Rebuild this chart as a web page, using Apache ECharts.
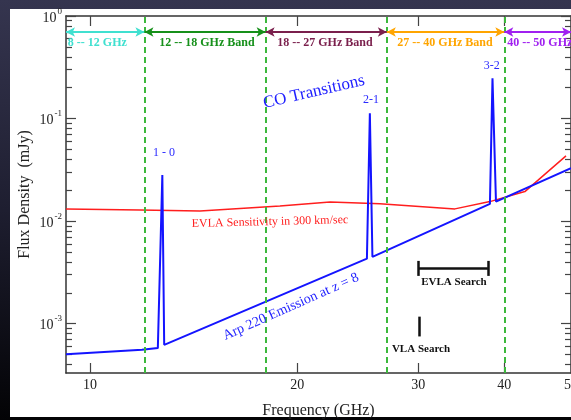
<!DOCTYPE html>
<html><head><meta charset="utf-8">
<script src="https://cdn.jsdelivr.net/npm/echarts@6/dist/echarts.min.js"></script>
<style>html,body{margin:0;padding:0;background:#000}#c{width:571px;height:420px}</style>
</head><body><div id="c"></div>
<script>
// ---------- data ----------
const freqRange = [9.23, 50];
const fluxRange = [3.3e-4, 1];
const xTicks = [10, 20, 30, 40, 50];
const yMajorTicks = [1e-3, 1e-2, 1e-1, 1];
const yMinorTicks = [4e-4, 5e-4, 6e-4, 7e-4, 8e-4, 9e-4,
  2e-3, 3e-3, 4e-3, 5e-3, 6e-3, 7e-3, 8e-3, 9e-3,
  2e-2, 3e-2, 4e-2, 5e-2, 6e-2, 7e-2, 8e-2, 9e-2,
  0.2, 0.3, 0.4, 0.5, 0.6, 0.7, 0.8, 0.9];

const bandEdges = [12, 18, 27, 40];
const bandNames = ['8 -- 12 GHz', '12 -- 18 GHz Band', '18 -- 27 GHz Band', '27 -- 40 GHz Band', '40 -- 50 GHz Band'];
const bandStart = [9.23, 12, 18, 27, 40];
const bandEnd = [12, 18, 27, 40, 50];
const bandColors = ['#40e0d0', '#16901a', '#7a1f4c', '#ffa500', '#a020f0'];
const bandLabelFreq = [10.25, 14.79, 21.95, 32.8, 47.4];
const bandArrowFlux = 0.698;
const bandLabelFlux = 0.546;

const arpFreq = [9.23, 11.90, 12.55, 12.74, 12.82, 25.26, 25.51, 25.73, 38.12, 38.45, 38.90, 50];
const arpFlux = [5.04e-4, 5.55e-4, 5.77e-4, 0.0282, 6.21e-4, 4.3e-3, 0.1127, 4.48e-3, 0.0147, 0.247, 0.0155, 0.0328];

const evlaFreq = [9.23, 11.82, 14.45, 18.88, 22.33, 26.38, 33.91, 38.12, 42.85, 49.17];
const evlaFlux = [0.01315, 0.01285, 0.01257, 0.01407, 0.01539, 0.01472, 0.01315, 0.01549, 0.0194, 0.0432];

const coNames = ['1 - 0', '2-1', '3-2'];
const coLabelFreq = [12.81, 25.60, 38.37];
const coLabelFlux = [0.0462, 0.1518, 0.326];

const evlaSearchFreq = [29.97, 37.86];
const evlaSearchFlux = 3.47e-3;
const evlaSearchCap = [4.09e-3, 2.92e-3];
const vlaSearchFreq = 30.06;
const vlaSearchFlux = [1.17e-3, 7.5e-4];

// ---------- chart ----------
const serif = 'Liberation Serif';
const chart = echarts.init(document.getElementById('c'), null, {renderer: 'canvas'});

function zip(a, b) { return a.map((v, i) => [v, b[i]]); }

const axisLineStyle = {color: '#333', width: 1.5};
const tickStyle = {color: '#444', width: 1.2};

function yAxisDef(pos, major, withLabels) {
  return {
    type: 'log', logBase: 10, min: fluxRange[0], max: fluxRange[1], position: pos,
    axisLine: {show: major, lineStyle: axisLineStyle},
    axisTick: {show: true, inside: true, length: major ? 10 : 6, customValues: major ? yMajorTicks : yMinorTicks, lineStyle: tickStyle},
    axisLabel: withLabels ? {
      show: true, customValues: yMajorTicks, margin: 4,
      formatter: v => '{b|10}{s|' + Math.round(Math.log10(v)) + '}',
      rich: {
        b: {fontFamily: serif, fontSize: 14, color: '#222', lineHeight: 14, verticalAlign: 'bottom'},
        s: {fontFamily: serif, fontSize: 9, color: '#222', lineHeight: 18, padding: [0, 0, 6, 1], verticalAlign: 'top'}
      }
    } : {show: false},
    splitLine: {show: false},
    name: withLabels ? 'Flux Density  (mJy)' : '',
    nameLocation: 'middle', nameGap: 33, nameMoveOverlap: false,
    nameTextStyle: {fontFamily: serif, fontSize: 16, color: '#222'}
  };
}

const option = {
  animation: false,
  backgroundColor: new echarts.graphic.LinearGradient(0, 0, 0, 1, [
    {offset: 0, color: '#35354f'}, {offset: 0.5, color: '#1e1e30'}, {offset: 1, color: '#030305'}
  ]),
  graphic: [{type: 'rect', shape: {x: 10, y: 9, width: 570, height: 408}, style: {fill: '#ffffff'}, z: -10, silent: true}],
  grid: {left: 66, right: 0, top: 16, bottom: 47, containLabel: false, outerBoundsMode: 'none'},
  xAxis: [
    {
      type: 'log', logBase: 10, min: freqRange[0], max: freqRange[1], position: 'bottom',
      axisLine: {show: true, lineStyle: axisLineStyle},
      axisTick: {show: true, inside: true, length: 10, customValues: xTicks, lineStyle: tickStyle},
      axisLabel: {show: true, customValues: xTicks, margin: 5, fontFamily: serif, fontSize: 14, color: '#222', formatter: v => String(Math.round(v))},
      splitLine: {show: false},
      name: 'Frequency (GHz)', nameLocation: 'middle', nameGap: 30, nameMoveOverlap: false,
      nameTextStyle: {fontFamily: serif, fontSize: 16, color: '#222'}
    },
    {
      type: 'log', logBase: 10, min: freqRange[0], max: freqRange[1], position: 'top',
      axisLine: {show: true, lineStyle: axisLineStyle},
      axisTick: {show: true, inside: true, length: 10, customValues: xTicks, lineStyle: tickStyle},
      axisLabel: {show: false}, splitLine: {show: false}
    }
  ],
  yAxis: [
    yAxisDef('left', true, true),
    yAxisDef('left', false, false),
    yAxisDef('right', true, false),
    yAxisDef('right', false, false)
  ],
  series: [
    {
      type: 'line', name: 'dashed', data: [], silent: true,
      markLine: {
        symbol: 'none', silent: true, label: {show: false},
        lineStyle: {color: '#3cb83c', width: 2, type: [6, 4]},
        data: bandEdges.map(v => ({xAxis: v}))
      }
    },
    {
      type: 'line', name: 'EVLA', data: zip(evlaFreq, evlaFlux), showSymbol: false, symbol: 'none',
      lineStyle: {color: '#ff1e1e', width: 1.5}, z: 3,
      markPoint: {
        symbol: 'circle', symbolSize: 1, itemStyle: {color: 'rgba(0,0,0,0)'},
        data: [{name: 'EVLA Sensitivity in 300 km/sec', coord: [18.26, 9.82e-3],
          label: {show: true, position: 'inside', formatter: '{b}', color: '#ff1e1e', fontFamily: serif, fontSize: 12, rotate: 1.5}}]
      }
    },
    {
      type: 'line', name: 'Arp', data: zip(arpFreq, arpFlux), showSymbol: false, symbol: 'none',
      lineStyle: {color: '#1414ff', width: 2}, z: 4,
      markPoint: {
        symbol: 'circle', symbolSize: 1, itemStyle: {color: 'rgba(0,0,0,0)'},
        label: {show: true, position: 'inside', formatter: '{b}', color: '#2a2aff', fontFamily: serif, fontSize: 12},
        data: coNames.map((n, i) => ({name: n, coord: [coLabelFreq[i], coLabelFlux[i]]})).concat([
          {name: 'CO Transitions', coord: [21.16, 0.1817], label: {fontSize: 17, rotate: 13, color: '#2020ff'}},
          {name: 'Arp 220 Emission at z = 8', coord: [19.59, 1.459e-3], label: {fontSize: 14, rotate: 24, color: '#1e1eff'}}
        ])
      }
    },
    {
      type: 'line', name: 'bands', data: [], silent: true,
      markLine: {
        symbol: ['arrow', 'arrow'], symbolSize: [7, 9], silent: true, label: {show: false},
        data: bandNames.map((n, i) => [
          {coord: [bandStart[i], bandArrowFlux], lineStyle: {color: bandColors[i], width: 2, type: 'solid'}, itemStyle: {color: bandColors[i]}},
          {coord: [bandEnd[i], bandArrowFlux]}
        ])
      },
      markPoint: {
        symbol: 'circle', symbolSize: 1, itemStyle: {color: 'rgba(0,0,0,0)'},
        data: bandNames.map((n, i) => ({name: n, coord: [bandLabelFreq[i], bandLabelFlux],
          label: {show: true, position: 'inside', formatter: '{b}', color: bandColors[i], fontFamily: serif, fontSize: 12, fontWeight: 'bold'}}))
      }
    },
    {
      type: 'line', name: 'search', data: [], silent: true,
      markLine: {
        symbol: 'none', silent: true, label: {show: false},
        lineStyle: {color: '#111', width: 2.5, type: 'solid'},
        data: [
          [{coord: [evlaSearchFreq[0], evlaSearchFlux]}, {coord: [evlaSearchFreq[1], evlaSearchFlux]}],
          [{coord: [evlaSearchFreq[0], evlaSearchCap[0]]}, {coord: [evlaSearchFreq[0], evlaSearchCap[1]]}],
          [{coord: [evlaSearchFreq[1], evlaSearchCap[0]]}, {coord: [evlaSearchFreq[1], evlaSearchCap[1]]}],
          [{coord: [vlaSearchFreq, vlaSearchFlux[0]]}, {coord: [vlaSearchFreq, vlaSearchFlux[1]]}]
        ]
      },
      markPoint: {
        symbol: 'circle', symbolSize: 1, itemStyle: {color: 'rgba(0,0,0,0)'},
        label: {show: true, position: 'inside', formatter: '{b}', color: '#111', fontFamily: serif, fontSize: 11, fontWeight: 'bold'},
        data: [
          {name: 'EVLA Search', coord: [33.8, 2.555e-3]},
          {name: 'VLA Search', coord: [30.27, 5.68e-4]}
        ]
      }
    }
  ]
};
chart.setOption(option);
</script>
</body></html>
